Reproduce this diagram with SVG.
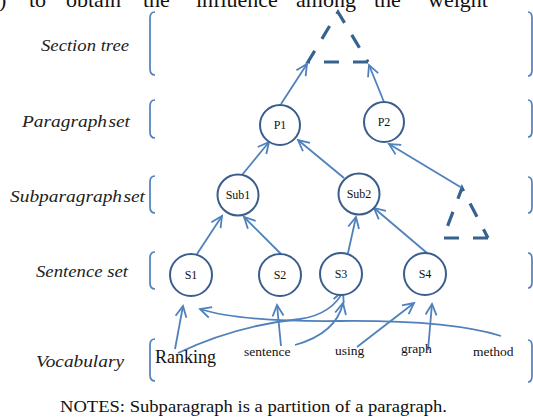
<svg xmlns="http://www.w3.org/2000/svg" width="533" height="418" viewBox="0 0 533 418">
  <defs>
    <style>
      .lbl { font-family: "Liberation Serif", "Times New Roman", serif; font-style: italic; font-size: 17px; fill: #222; }
      .body { font-family: "Liberation Serif", "Times New Roman", serif; fill: #111; }
      .node circle { fill: #fff; stroke: #3a5d8c; stroke-width: 2; }
      .node text { font-family: "Liberation Serif", "Times New Roman", serif; font-size: 12px; fill: #111; text-anchor: middle; }
      .word { font-family: "Liberation Serif", "Times New Roman", serif; font-size: 13.5px; fill: #111; }
      .bracket { fill: none; stroke: #4f81bd; stroke-width: 1.7; }
      .tri { fill: none; stroke: #35628f; stroke-width: 3.2; stroke-dasharray: 15 14; }
      #connectors path { fill: none; stroke: #4f81bd; stroke-width: 1.8; marker-end: url(#arrow); }
    </style>
    <marker id="arrow" viewBox="-13 -7 15 14" refX="0" refY="0" markerWidth="15" markerHeight="14" markerUnits="userSpaceOnUse" orient="auto">
      <path d="M-11,-5.5 L0,0 L-11,5.5" fill="none" stroke="#4f81bd" stroke-width="1.8"/>
    </marker>
  </defs>

  <rect width="533" height="418" fill="#fff"/>

  <!-- running text of the page, cut off at the top edge -->
  <g class="body" font-size="22">
    <text x="-1" y="7">)</text>
    <text x="29" y="7">to</text>
    <text x="66" y="7">obtain</text>
    <text x="143" y="7">the</text>
    <text x="196" y="7">influence</text>
    <text x="296" y="7">among</text>
    <text x="374" y="7">the</text>
    <text x="428" y="7">weight</text>
  </g>

  <!-- level labels -->
  <g id="labels">
    <text class="lbl" x="41" y="51" textLength="88" lengthAdjust="spacingAndGlyphs">Section tree</text>
    <text class="lbl" x="22" y="127" textLength="108" lengthAdjust="spacingAndGlyphs" word-spacing="-3">Paragraph set</text>
    <text class="lbl" x="10" y="202" textLength="135" lengthAdjust="spacingAndGlyphs" word-spacing="-3">Subparagraph set</text>
    <text class="lbl" x="36" y="277" textLength="92" lengthAdjust="spacingAndGlyphs">Sentence set</text>
    <text class="lbl" x="36" y="367" textLength="88" lengthAdjust="spacingAndGlyphs">Vocabulary</text>
  </g>

  <!-- level brackets -->
  <g id="brackets">
    <path class="bracket" d="M155,12 Q150,12 150,18 L150,69 Q150,75 155,75"/>
    <path class="bracket" d="M155,100 Q150,100 150,106 L150,132 Q150,138 155,138"/>
    <path class="bracket" d="M155,176 Q150,176 150,182 L150,207 Q150,213 155,213"/>
    <path class="bracket" d="M155,252 Q150,252 150,258 L150,283 Q150,289 155,289"/>
    <path class="bracket" d="M155,339 Q150,339 150,345 L150,375 Q150,381 155,381"/>
    <path class="bracket" d="M528,12 Q532,12 532,18 L532,70 Q532,76 528,76"/>
    <path class="bracket" d="M528,100 Q532,100 532,106 L532,131 Q532,137 528,137"/>
    <path class="bracket" d="M528,177 Q532,177 532,183 L532,207 Q532,213 528,213"/>
    <path class="bracket" d="M528,253 Q532,253 532,259 L532,282 Q532,288 528,288"/>
    <path class="bracket" d="M528,340 Q532,340 532,346 L532,376 Q532,382 528,382"/>
  </g>

  <!-- section trees (dashed) -->
  <g id="section-tree">
    <path class="tri" d="M368,62 L308,62 L338,12 L368,62"/>
  </g>
  <g id="subtree-p2">
    <path class="tri" d="M488,238 L443,238 L462,188 L488,238" stroke-dasharray="15 12"/>
  </g>

  <!-- connectors -->
  <g id="connectors">
    <path d="M281,104 L307,64"/>
    <path d="M384,102 L369,65"/>
    <path d="M242,175 L269,142"/>
    <path d="M344,178 L298,140"/>
    <path d="M462,188 L389,144"/>
    <path d="M197,254 L222,216"/>
    <path d="M281,254 L244,217"/>
    <path d="M348,253 L356,217"/>
    <path d="M427,253 L374,208"/>
    <path d="M175,349 L183,306"/>
    <path d="M501,336 Q450,320 340,321 Q240,322 200,309"/>
    <path d="M178,353 C220,333 260,323 300,319 C322,316 337,305 343,291"/>
    <path d="M281,346 L277,305"/>
    <path d="M295,345 C320,338 338,325 343,303"/>
    <path d="M357,347 L414,303"/>
    <path d="M428,350 L432,304"/>
  </g>

  <!-- nodes -->
  <g id="P1" class="node"><circle cx="280" cy="125" r="20"/><text x="280" y="129">P1</text></g>
  <g id="P2" class="node"><circle cx="384" cy="122" r="20"/><text x="384" y="126">P2</text></g>
  <g id="Sub1" class="node"><circle cx="238" cy="195" r="20.5"/><text x="238" y="199">Sub1</text></g>
  <g id="Sub2" class="node"><circle cx="359" cy="194" r="20.5"/><text x="359" y="198">Sub2</text></g>
  <g id="S1" class="node"><circle cx="191" cy="275" r="21"/><text x="191" y="279">S1</text></g>
  <g id="S2" class="node"><circle cx="280" cy="275" r="21"/><text x="280" y="279">S2</text></g>
  <g id="S3" class="node"><circle cx="341" cy="274" r="21"/><text x="341" y="278">S3</text></g>
  <g id="S4" class="node"><circle cx="425" cy="274" r="21"/><text x="425" y="278">S4</text></g>

  <!-- vocabulary words -->
  <g id="vocabulary">
    <text class="body" x="155" y="363" font-size="18">Ranking</text>
    <text class="word" x="244" y="356">sentence</text>
    <text class="word" x="335" y="355">using</text>
    <text class="word" x="401" y="353">graph</text>
    <text class="word" x="473" y="356">method</text>
  </g>

  <text class="body" x="60" y="412" font-size="17" textLength="387" lengthAdjust="spacingAndGlyphs">NOTES: Subparagraph is a partition  of a paragraph.</text>
</svg>
